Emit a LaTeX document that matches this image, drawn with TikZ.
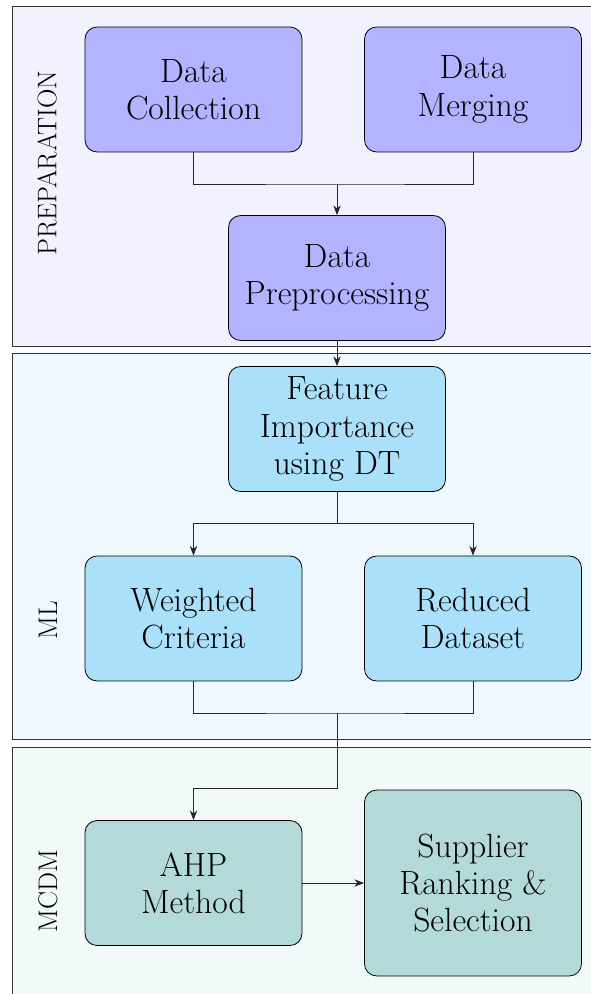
\documentclass[tikz,border=0pt]{standalone}
\usetikzlibrary{arrows.meta}

\definecolor{prepbox}{RGB}{179,179,255}
\definecolor{prepbg}{RGB}{242,242,254}
\definecolor{mlbox}{RGB}{170,224,250}
\definecolor{mlbg}{RGB}{240,248,255}
\definecolor{mcdmbox}{RGB}{179,217,217}
\definecolor{mcdmbg}{RGB}{242,249,249}

\tikzset{
  panel/.style={draw=black!80, line width=0.45pt},
  stage/.style={draw=black, line width=0.45pt, rounded corners=6.8pt,
    minimum width=122.6pt, minimum height=70.6pt, align=center,
    font=\fontsize{19}{21}\selectfont, inner sep=2pt},
  tall/.style={minimum height=105pt},
  phase/.style={rotate=90, font=\fontsize{15.2}{18}\selectfont},
  link/.style={draw=black!85, line width=0.5pt},
  flow/.style={link, -{Stealth[length=5.5pt,width=4.2pt]}}
}

\begin{document}
\begin{tikzpicture}[x=0.565pt, y=-0.565pt]
\useasboundingbox (0,0) rectangle (590,994);

% phase panels
\draw[panel, fill=prepbg] (12,6) rectangle (610,346);
\draw[panel, fill=mlbg]   (12,353) rectangle (610,739);
\draw[panel, fill=mcdmbg] (12,747) rectangle (610,1010);

% phase titles
\node[phase] (tprep) at (47,163) {PREPARATION};
\node[phase] (tml)   at (48,620) {ML};
\node[phase] (tmcdm) at (48,891) {MCDM};

% preparation stages
\node[stage, fill=prepbox] (dc) at (193.5,89.5) {Data\\Collection};
\node[stage, fill=prepbox] (dm) at (473,89.5) {Data\\Merging};
\node[stage, fill=prepbox] (pp) at (337,278) {Data\\Preprocessing};

% machine learning stages
\node[stage, fill=mlbox] (fi) at (337,429) {Feature\\Importance\\using DT};
\node[stage, fill=mlbox] (wc) at (193.5,618.5) {Weighted\\Criteria};
\node[stage, fill=mlbox] (rd) at (473,618.5) {Reduced\\Dataset};

% decision-making stages
\node[stage, fill=mcdmbox] (ahp) at (193.5,883) {AHP\\Method};
\node[stage, tall, fill=mcdmbox] (sup) at (473,883) {Supplier\\Ranking \&\\Selection};

% junction points
\coordinate (j1) at (337,184);
\coordinate (j2) at (337,523);
\coordinate (j3) at (337,713);
\coordinate (j4) at (337,788);

% connectors
\draw[link] (dc.south) |- (j1) -| (dm.south);
\draw[flow] (j1) -- (pp.north);
\draw[flow] (pp.south) -- (fi.north);
\draw[link] (fi.south) -- (j2);
\draw[flow] (j2) -| (wc.north);
\draw[flow] (j2) -| (rd.north);
\draw[link] (wc.south) |- (j3) -| (rd.south);
\draw[flow] (j3) -- (j4) -| (ahp.north);
\draw[flow] (ahp.east) -- (sup.west);
\end{tikzpicture}
\end{document}
